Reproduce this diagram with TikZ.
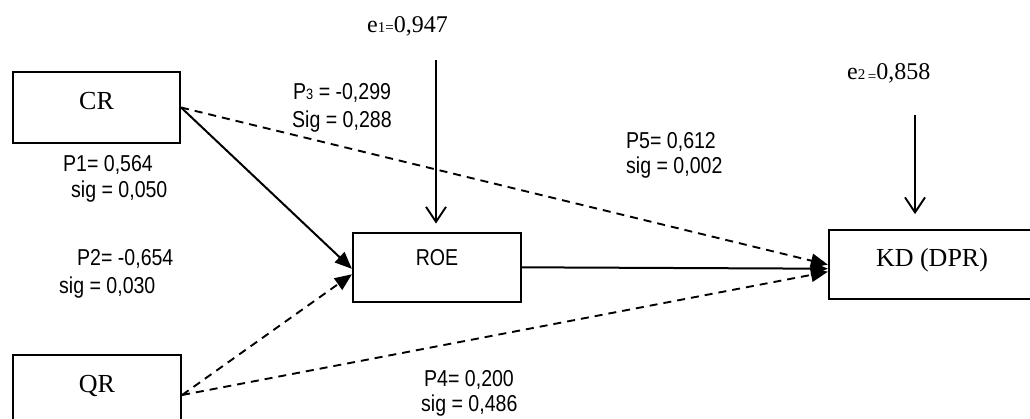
\documentclass[tikz,border=0pt]{standalone}
\usepackage{fontspec}
\setmainfont{Liberation Serif}
\newfontfamily\nar[FakeStretch=0.85]{Liberation Sans}
\usetikzlibrary{arrows.meta}
\begin{document}
\begin{tikzpicture}[x=1pt,y=-1pt,
  box/.style={draw, line width=2.2pt, inner sep=0pt, font=\fontsize{26}{26}\selectfont},
  lbl/.style={inner sep=0pt, anchor=base west, font=\nar\fontsize{23}{23}\selectfont},
  elbl/.style={inner sep=0pt, anchor=base west, font=\fontsize{24}{24}\selectfont},
  solidc/.style={line width=2pt, -{Triangle[length=17pt,width=14pt]}},
  dashc/.style={line width=1.9pt, dash pattern=on 8pt off 6pt, -{Triangle[length=17pt,width=14pt]}},
  earrow/.style={line width=1.9pt, -{Straight Barb[length=15pt,width=20pt]}}]
\fill[white] (0,0) rectangle (1030,418);
\useasboundingbox (0,0) rectangle (1030,418);
% boxes
\node[box, minimum width=167pt, minimum height=71pt, text height=18pt, text depth=14.4pt] (cr) at (96.5,107.5) {CR};
\node[box, minimum width=168pt, minimum height=71pt, text height=18pt, text depth=15pt] (qr) at (97,390.5) {QR};
\node[box, minimum width=168pt, minimum height=69.3pt, text height=16pt, text depth=20.6pt, font=\nar\fontsize{23}{23}\selectfont] (roe) at (437,267.3) {ROE};
\node[box, minimum width=206pt, minimum height=69pt, text height=18pt, text depth=14pt] (kd) at (932,264.7) {KD (DPR)};
% connectors
\draw[solidc] (cr.east) -- ([yshift=-1.5pt]roe.west);
\draw[dashc] (cr.east) -- (kd.west);
\draw[solidc] (roe.east) -- ([yshift=-4pt]kd.west);
\draw[dashc] ([yshift=-4.5pt]qr.east) -- ([yshift=-7pt]roe.west);
\draw[dashc] ([yshift=-4.5pt]qr.east) -- ([yshift=-7pt]kd.west);
% error terms
\coordinate (e1s) at (436,60);
\coordinate (e2s) at (915,115);
\draw[earrow] (e1s) -- ([yshift=8pt,xshift=-1pt]roe.north);
\draw[earrow] (e2s) -- ([yshift=15pt,xshift=-17pt]kd.north);
\node[elbl] (e1) at (367,32) {e{\fontsize{15}{15}\selectfont 1=}0,947};
\node[elbl] (e2) at (847,79.3) {e{\fontsize{15}{15}\selectfont 2\,\raisebox{-2pt}{=}}0,858};
% labels
\node[lbl] (p3a) at (293,99.3) {P{\fontsize{15}{15}\selectfont 3} = -0,299};
\node[lbl] (p3b) at (292,127.3) {Sig = 0,288};
\node[lbl] (p1a) at (63,171.7) {P1= 0,564};
\node[lbl] (p1b) at (71,197) {sig = 0,050};
\node[lbl] (p2a) at (77,265) {P2= -0,654};
\node[lbl] (p2b) at (59,293) {sig = 0,030};
\node[lbl] (p5a) at (626,148) {P5= 0,612};
\node[lbl] (p5b) at (626,173) {sig = 0,002};
\node[lbl] (p4a) at (424,386) {P4= 0,200};
\node[lbl] (p4b) at (421,411) {sig = 0,486};
\end{tikzpicture}
\end{document}
